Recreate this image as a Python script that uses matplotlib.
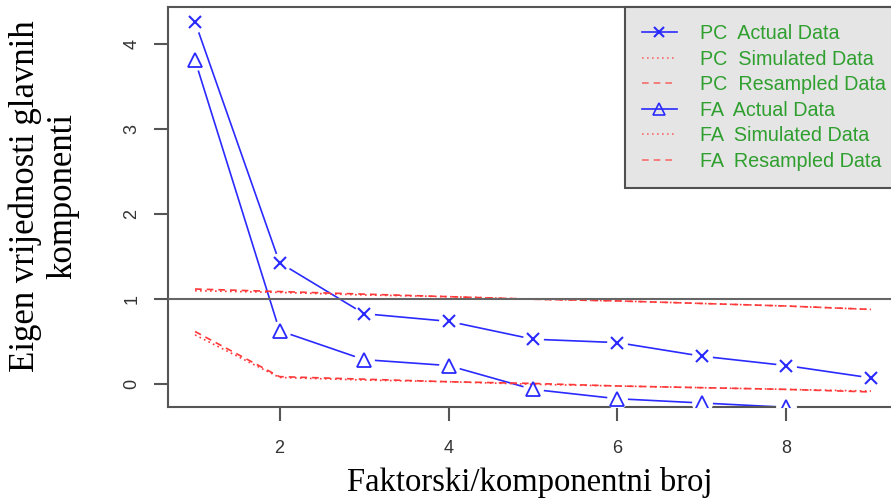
import matplotlib
matplotlib.use("Agg")
import matplotlib.pyplot as plt
from matplotlib.lines import Line2D

factors = [1, 2, 3, 4, 5, 6, 7, 8, 9]
pc_actual = [4.26, 1.43, 0.83, 0.74, 0.53, 0.49, 0.33, 0.22, 0.075]
pc_simulated = [1.10, 1.08, 1.05, 1.03, 1.00, 0.98, 0.95, 0.92, 0.88]
pc_resampled = [1.12, 1.09, 1.06, 1.03, 1.00, 0.98, 0.95, 0.92, 0.88]
fa_actual = [3.81, 0.63, 0.29, 0.22, -0.06, -0.17, -0.22, -0.27, -0.40]
fa_simulated = [0.58, 0.08, 0.05, 0.03, 0.00, -0.02, -0.04, -0.06, -0.08]
fa_resampled = [0.62, 0.09, 0.06, 0.03, 0.01, -0.02, -0.04, -0.06, -0.09]
legend_labels = ["PC  Actual Data", "PC  Simulated Data", "PC  Resampled Data",
                 "FA  Actual Data", "FA  Simulated Data", "FA  Resampled Data"]
xticks = [2, 4, 6, 8]
yticks = [0, 1, 2, 3, 4]

BLUE = "#2a2aff"
RED = "#ff3838"
GREEN = "#2f9f2f"
AX = "#555555"

fig = plt.figure(figsize=(8.91, 5.01), dpi=100)
ax = fig.add_axes([168 / 891, 1 - 407 / 501, (898 - 168) / 891, (407 - 7) / 501])
ax.set_xlim(0.68, 9.32)
ax.set_ylim(-0.267, 4.435)

# actual data lines (type "b": gaps around points)
ax.plot(factors, pc_actual, color=BLUE, lw=1.2, zorder=2)
ax.plot(factors, fa_actual, color=BLUE, lw=1.2, zorder=2)
ax.plot(factors, pc_actual, ls="none", marker="o", ms=15, mfc="white", mec="none", zorder=3)
ax.plot(factors, fa_actual, ls="none", marker="o", ms=15, mfc="white", mec="none", zorder=3)

# simulated / resampled
ax.plot(factors, pc_simulated, color=RED, lw=1.2, ls=(0, (1, 2)), zorder=4)
ax.plot(factors, pc_resampled, color=RED, lw=1.2, ls=(0, (4, 3)), zorder=4)
ax.plot(factors, fa_simulated, color=RED, lw=1.2, ls=(0, (1, 2)), zorder=4)
ax.plot(factors, fa_resampled, color=RED, lw=1.2, ls=(0, (4, 3)), zorder=4)

ax.axhline(1, color="#666666", lw=1.5, zorder=4)

ax.plot(factors, pc_actual, ls="none", marker="x", ms=8, mew=1.5, color=BLUE, zorder=5)
ax.plot(factors, fa_actual, ls="none", marker="^", ms=10, mew=1.3, mfc="none", mec=BLUE, zorder=5)

for s in ax.spines.values():
    s.set_color(AX)
    s.set_linewidth(1.5)
ax.set_xticks(xticks)
ax.set_yticks(yticks)
ax.set_xticklabels([str(t) for t in xticks], family="Liberation Sans", fontsize=13, color="#333333")
ax.set_yticklabels([str(t) for t in yticks], family="Liberation Sans", fontsize=13, color="#333333",
                   rotation=90, va="center")
ax.tick_params(axis="x", length=10, width=1.5, color=AX, pad=14)
ax.tick_params(axis="y", length=10, width=1.5, color=AX, pad=10)

fig.text(530 / 891, 1 - 483 / 501, "Faktorski/komponentni broj", family="Liberation Serif",
         fontsize=23.5, ha="center", va="center")
fig.text(44 / 891, 1 - 196 / 501, "Eigen vrijednosti glavnih\nkomponenti", family="Liberation Serif",
         fontsize=25, ha="center", va="center", rotation=90, multialignment="center", linespacing=1.2)

handles = [
    Line2D([], [], color=BLUE, lw=1.2, marker="x", ms=7, mew=1.5),
    Line2D([], [], color=RED, lw=1.2, ls=(0, (1, 2)), alpha=0.7),
    Line2D([], [], color=RED, lw=1.2, ls=(0, (4, 3)), alpha=0.7),
    Line2D([], [], color=BLUE, lw=1.2, marker="^", ms=8, mew=1.2, mfc="none"),
    Line2D([], [], color=RED, lw=1.2, ls=(0, (1, 2)), alpha=0.7),
    Line2D([], [], color=RED, lw=1.2, ls=(0, (4, 3)), alpha=0.7),
]
leg = fig.legend(handles, legend_labels, loc="upper left",
                 bbox_to_anchor=(625 / 891, 1 - 7 / 501), bbox_transform=fig.transFigure,
                 prop={"family": "Liberation Sans", "size": 14.2},
                 labelcolor=GREEN, frameon=True, fancybox=False, shadow=False,
                 handlelength=1.75, handletextpad=1.2, labelspacing=0.33, borderpad=0.87,
                 borderaxespad=0)
fr = leg.get_frame()
fr.set_facecolor("#e5e5e5")
fr.set_edgecolor("#505050")
fr.set_linewidth(1.5)
fr.set_alpha(1)

fig.savefig("out.png", dpi=100)
